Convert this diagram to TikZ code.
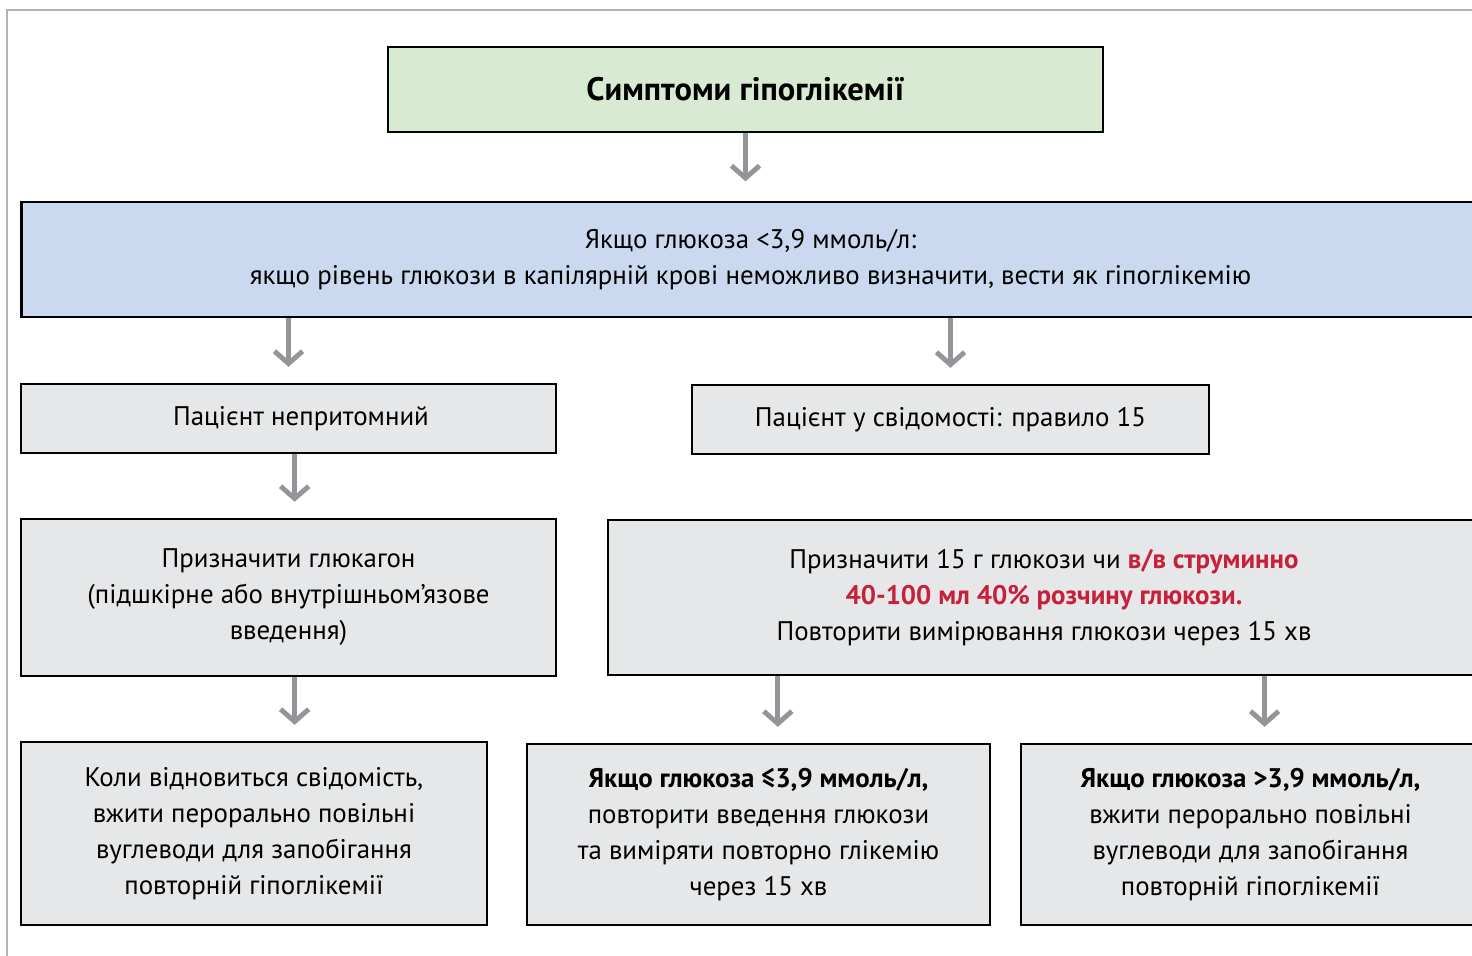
\documentclass[tikz,border=0pt]{standalone}
\usepackage{fontspec}
\setmainfont{PT Sans}
\usetikzlibrary{arrows.meta}
\definecolor{symgreen}{HTML}{D9EAD3}
\definecolor{rulblue}{HTML}{CAD9F0}
\definecolor{boxgray}{HTML}{E6E7E8}
\definecolor{arrowgray}{HTML}{939598}
\definecolor{framegray}{HTML}{B3B3B3}
\definecolor{alertred}{HTML}{C7203B}
\tikzset{
  box/.style={draw=black,line width=1.6pt,fill=boxgray,align=center,inner sep=0pt,
    font=\fontsize{15.3}{20.5}\selectfont},
  flow/.style={-{Straight Barb[length=7pt,width=16pt]},draw=arrowgray,line width=2.8pt,shorten >=9pt}
}
\begin{document}
\begin{tikzpicture}[x=0.02cm,y=-0.02cm,line cap=butt,line join=miter]
  \clip (0,0) rectangle (1472,956);
  \fill[white] (0,0) rectangle (1472,956);
  % frame of the page
  \draw[framegray,line width=1pt] (7,956) -- (7,10) -- (1472,10);
  % boxes
  \node[box,fill=symgreen,minimum width=14.3cm,minimum height=1.7cm,
    font=\fontsize{18.5}{20}\selectfont\bfseries] (symptoms) at (745.5,89.5) {Симптоми гіпоглікемії};
  \node[box,fill=rulblue,minimum width=29.18cm,minimum height=2.3cm] (check) at (750.5,259.5)
    {Якщо глюкоза <3,9 ммоль/л:\\якщо рівень глюкози в капілярній крові неможливо визначити, вести як гіпоглікемію};
  \node[box,minimum width=10.7cm,minimum height=1.38cm] (uncons) at (288.5,418.5) {\hspace*{0.5cm}Пацієнт непритомний};
  \node[box,minimum width=10.34cm,minimum height=1.38cm] (cons) at (950.5,419.5) {Пацієнт у свідомості: правило 15};
  \node[box,minimum width=10.7cm,minimum height=3.14cm] (glucagon) at (288.5,597.5)
    {Призначити глюкагон\\(підшкірне або внутрішньом’язове\\введення)};
  \node[box,minimum width=17.44cm,minimum height=3.1cm] (dose) at (1044,597.5)
    {Призначити 15 г глюкози чи \textcolor{alertred}{\bfseries в/в струминно}\\
     \textcolor{alertred}{\bfseries 40-100 мл 40\% розчину глюкози.}\\
     Повторити вимірювання глюкози через 15 хв};
  \node[box,minimum width=9.32cm,minimum height=3.66cm] (wake) at (254,833.5)
    {Коли відновиться свідомість,\\вжити перорально повільні\\вуглеводи для запобігання\\повторній гіпоглікемії};
  \node[box,minimum width=9.26cm,minimum height=3.62cm] (low) at (758.5,834.5)
    {\textbf{Якщо глюкоза ≤3,9 ммоль/л,}\\повторити введення глюкози\\та виміряти повторно глікемію\\через 15 хв};
  \node[box,minimum width=9.18cm,minimum height=3.62cm] (high) at (1250.5,834.5)
    {\textbf{Якщо глюкоза >3,9 ммоль/л,}\\вжити перорально повільні\\вуглеводи для запобігання\\повторній гіпоглікемії};
  % arrows
  \draw[flow,shorten >=11pt] (symptoms.south) -- (symptoms.south |- check.north);
  \draw[flow] (uncons.north |- check.south) -- (uncons.north);
  \draw[flow] (cons.north |- check.south) -- (cons.north);
  \draw[flow] ([xshift=3.5pt]uncons.south) -- ([xshift=3.5pt]glucagon.north);
  \draw[flow] ([xshift=3.5pt]glucagon.south) -- ([xshift=3.5pt]glucagon.south |- wake.north);
  \draw[flow] ([xshift=11pt]low.north |- dose.south) -- ([xshift=11pt]low.north);
  \draw[flow] ([xshift=8pt]high.north |- dose.south) -- ([xshift=8pt]high.north);
\end{tikzpicture}
\end{document}
